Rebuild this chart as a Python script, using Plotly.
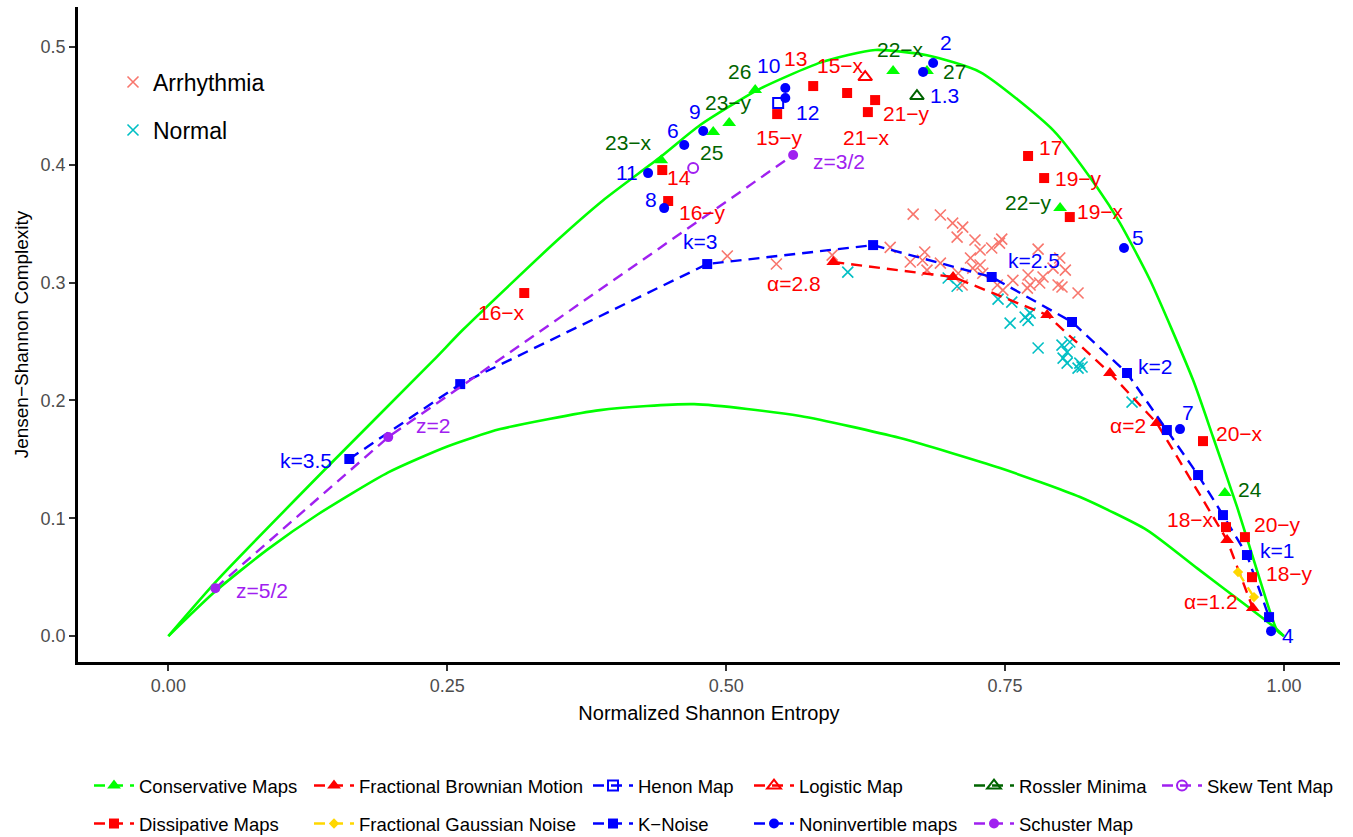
import plotly.graph_objects as go

FONT = "Liberation Sans, Arial, sans-serif"

# ---------------- data ----------------
upper_x = [0.0, 0.0439, 0.1425, 0.2375, 0.264, 0.3486, 0.3898, 0.441, 0.4767, 0.528, 0.585,
           0.6335, 0.680, 0.7276, 0.793, 0.8324, 0.853, 0.880, 0.9185, 0.9364, 0.958, 0.9785, 0.9937, 1.0]
upper_y = [0.0, 0.0475, 0.1435, 0.234, 0.260, 0.336, 0.370, 0.4066, 0.4338, 0.4635, 0.487,
           0.4975, 0.493, 0.4788, 0.4295, 0.381, 0.3506, 0.302, 0.2173, 0.169, 0.1095, 0.0475, 0.005, 0.0]
lower_x = [0.0, 0.0421, 0.0887, 0.1335, 0.1971, 0.25, 0.2975, 0.387, 0.4713, 0.5663, 0.6559, 0.7455,
           0.8172, 0.8772, 0.922, 0.9668, 0.9901, 1.0]
lower_y = [0.0, 0.038, 0.0734, 0.103, 0.139, 0.161, 0.1757, 0.1918, 0.1969, 0.1868, 0.1681, 0.1426,
           0.118, 0.090, 0.0577, 0.0255, 0.0085, 0.0]

arr_x = [0.501, 0.545, 0.595, 0.647, 0.665, 0.678, 0.680, 0.6676, 0.692, 0.703, 0.712, 0.707, 0.723,
         0.676, 0.692, 0.719, 0.7276, 0.738, 0.745, 0.747, 0.721, 0.7276, 0.730, 0.708, 0.7115, 0.757,
         0.7706, 0.7724, 0.7796, 0.784, 0.781, 0.793, 0.7975, 0.801, 0.804, 0.799, 0.8154, 0.748, 0.743, 0.770]
arr_y = [0.3226, 0.3158, 0.3234, 0.330, 0.3175, 0.326, 0.3107, 0.3582, 0.3574, 0.3506, 0.3472, 0.3387, 0.3362,
         0.319, 0.3166, 0.3209, 0.3277, 0.3294, 0.3336, 0.337, 0.3124, 0.315, 0.308, 0.308, 0.298, 0.302,
         0.3065, 0.298, 0.3285, 0.3048, 0.2997, 0.3124, 0.298, 0.2963, 0.3107, 0.3209, 0.2912, 0.2937, 0.298, 0.2954]
nor_x = [0.609, 0.699, 0.707, 0.7437, 0.756, 0.7545, 0.768, 0.7724, 0.7706, 0.7796, 0.801, 0.808,
         0.8056, 0.802, 0.8056, 0.817, 0.819, 0.8154, 0.8638]
nor_y = [0.309, 0.304, 0.297, 0.286, 0.2835, 0.2657, 0.2708, 0.2742, 0.268, 0.2445, 0.247, 0.2496,
         0.241, 0.236, 0.2317, 0.2317, 0.2284, 0.2275, 0.1986]

cons_x = [0.4418, 0.4884, 0.5027, 0.526, 0.6496, 0.680, 0.7993, 0.947]
cons_y = [0.404, 0.4278, 0.4355, 0.4635, 0.4796, 0.4796, 0.3633, 0.1214]
cons_lab = ["23−x", "25", "23−y", "26", "22−x", "27", "22−y", "24"]

diss_x = [0.319, 0.4427, 0.448, 0.5457, 0.578, 0.6084, 0.627, 0.6335, 0.7706, 0.785, 0.808,
          0.9274, 0.948, 0.965, 0.9713]
diss_y = [0.2912, 0.3956, 0.3693, 0.4431, 0.4669, 0.461, 0.4448, 0.455, 0.4075, 0.3888, 0.3557,
          0.1655, 0.0925, 0.084, 0.050]
diss_lab = ["16−x", "14", "16−y", "15−y", "13", "15−x", "21−x", "21−y", "17", "19−y", "19−x",
            "20−x", "18−x", "20−y", "18−y"]

fbm_x = [0.596, 0.7034, 0.7877, 0.844, 0.886, 0.949, 0.972]
fbm_y = [0.3175, 0.3048, 0.2725, 0.2233, 0.1808, 0.0815, 0.0238]
fbm_lab = ["α=2.8", "", "", "", "α=2", "", "α=1.2"]

fgn_x = [0.9588, 0.9731]
fgn_y = [0.0543, 0.0331]

kn_x = [0.1622, 0.2616, 0.483, 0.6317, 0.738, 0.810, 0.8593, 0.895, 0.923, 0.9453, 0.9668, 0.9866]
kn_y = [0.1503, 0.2139, 0.3158, 0.3319, 0.3048, 0.2666, 0.2233, 0.1749, 0.1367, 0.1027, 0.0688, 0.0161]
kn_lab = ["k=3.5", "", "k=3", "", "k=2.5", "", "k=2", "", "", "", "k=1", ""]

henon_x = [0.5466]
henon_y = [0.4525]

ninv_x = [0.430, 0.4444, 0.4624, 0.4794, 0.553, 0.553, 0.6765, 0.6855, 0.8566, 0.9068, 0.9884]
ninv_y = [0.393, 0.3633, 0.4168, 0.4287, 0.4652, 0.4567, 0.4788, 0.4864, 0.3294, 0.1757, 0.0042]
ninv_lab = ["11", "8", "6", "9", "10", "12", "", "2", "5", "7", "4"]

logi_x = [0.6246]
logi_y = [0.4745]

ross_x = [0.671]
ross_y = [0.4584]
ross_lab = ["1.3"]

skew_x = [0.4704]
skew_y = [0.3973]

schu_x = [0.0421, 0.1971, 0.560]
schu_y = [0.0407, 0.1689, 0.4083]
schu_lab = ["z=5/2", "z=2", "z=3/2"]

x_ticks = [0.0, 0.25, 0.5, 0.75, 1.0]
x_ticklabels = ["0.00", "0.25", "0.50", "0.75", "1.00"]
y_ticks = [0.0, 0.1, 0.2, 0.3, 0.4, 0.5]
y_ticklabels = ["0.0", "0.1", "0.2", "0.3", "0.4", "0.5"]

# ---------------- label offsets (pixels: right, up) ----------------
off = {
    "23−x": (-33, 18), "25": (-2, -20), "23−y": (-1, 21), "26": (-16, 19), "22−x": (7, 22),
    "27": (28, 0), "22−y": (-32, 6), "24": (25, 4),
    "16−x": (-23, -19), "14": (17, -7), "16−y": (34, -11), "15−y": (2, -23), "13": (-18, 28),
    "15−x": (-7, 28), "21−x": (-1, -25), "21−y": (31, -13), "17": (22, 9), "19−y": (34, 0),
    "19−x": (31, 6), "20−x": (36, 8), "18−x": (-35, 8), "20−y": (33, 13), "18−y": (38, 4),
    "α=2.8": (-39, -21), "α=2": (-29, -2), "α=1.2": (-42, 7),
    "k=3.5": (-43, -1), "k=3": (-7, 23), "k=2.5": (42, 17), "k=2": (28, 7), "k=1": (30, 5),
    "11": (-21, 1), "8": (-13, 9), "6": (-11, 15), "9": (-8, 20), "10": (-17, 23), "12": (22, -14),
    "2": (13, 21), "5": (14, 11), "7": (8, 17), "4": (17, -4),
    "1.3": (28, 1),
    "z=5/2": (47, -2), "z=2": (45, 12), "z=3/2": (46, -6),
}

GREEN = "#00FF00"
DKGREEN = "#006400"
RED = "#FF0000"
BLUE = "#0000FF"
PURPLE = "#A020F0"
GOLD = "#FFD700"
SALMON = "#F8766D"
TEAL = "#00BFC4"

fig = go.Figure()

# bounds
for bx, by in [(upper_x, upper_y), (lower_x, lower_y)]:
    fig.add_trace(go.Scatter(x=bx, y=by, mode="lines",
                             line=dict(color=GREEN, width=2.6, shape="spline", smoothing=0.6),
                             showlegend=False, hoverinfo="skip"))

# ECG groups
fig.add_trace(go.Scatter(x=arr_x, y=arr_y, mode="markers", name="Arrhythmia", legend="legend12",
                         marker=dict(symbol="x-thin", size=11, line=dict(width=1.6, color=SALMON), color=SALMON)))
fig.add_trace(go.Scatter(x=nor_x, y=nor_y, mode="markers", name="Normal", legend="legend13",
                         marker=dict(symbol="x-thin", size=11, line=dict(width=1.6, color=TEAL), color=TEAL)))


def gapped(v):
    out = []
    for a in v:
        out += [a, None]
    return out[:-1]


DASH = "11px,7px"


def add_group(name, xs, ys, color, symbol, size, legend, connect, mline=None):
    xx = xs if connect else gapped(xs)
    yy = ys if connect else gapped(ys)
    mk = dict(symbol=symbol, size=size, color=color)
    mk["line"] = dict(color=color, width=mline) if mline else dict(width=0)
    fig.add_trace(go.Scatter(x=xx, y=yy, mode="lines+markers", name=name, legend=legend,
                             connectgaps=False,
                             line=dict(color=color, width=2.4, dash=DASH), marker=mk))


add_group("Fractional Brownian Motion", fbm_x, fbm_y, RED, "triangle-up", 12, "legend2", True)
add_group("K−Noise", kn_x, kn_y, BLUE, "square", 10, "legend9", True)
add_group("Schuster Map", schu_x, schu_y, PURPLE, "circle", 10, "legend11", True)
add_group("Fractional Gaussian Noise", fgn_x, fgn_y, GOLD, "diamond", 8, "legend8", True)
add_group("Conservative Maps", cons_x, cons_y, GREEN, "triangle-up", 12, "legend", False)
add_group("Dissipative Maps", diss_x, diss_y, RED, "square", 10, "legend7", False)
add_group("Henon Map", henon_x, henon_y, BLUE, "square-open", 10, "legend3", False, mline=2)
add_group("Logistic Map", logi_x, logi_y, RED, "triangle-up-open", 12, "legend4", False, mline=2)
add_group("Rossler Minima", ross_x, ross_y, DKGREEN, "triangle-up-open", 12, "legend5", False, mline=2)
add_group("Skew Tent Map", skew_x, skew_y, PURPLE, "circle-open", 10, "legend6", False, mline=2)
add_group("Noninvertible maps", ninv_x, ninv_y, BLUE, "circle", 10, "legend10", False)

# point labels
LABFONT = 21
anns = []
for xs, ys, labs, col in [(cons_x, cons_y, cons_lab, DKGREEN), (diss_x, diss_y, diss_lab, RED),
                          (fbm_x, fbm_y, fbm_lab, RED), (kn_x, kn_y, kn_lab, BLUE),
                          (ninv_x, ninv_y, ninv_lab, BLUE), (ross_x, ross_y, ross_lab, BLUE),
                          (schu_x, schu_y, schu_lab, PURPLE)]:
    for xv, yv, t in zip(xs, ys, labs):
        if not t:
            continue
        dx, dy = off[t]
        anns.append(dict(x=xv, y=yv, xref="x", yref="y", text=t, showarrow=False,
                         xshift=dx, yshift=dy, xanchor="center", yanchor="middle",
                         font=dict(family=FONT, size=LABFONT, color=col)))

# ---------------- layout ----------------
W, H = 1353, 837
ML, MR, MT, MB = 78, 13, 7, 175
PW = W - ML - MR
PH = H - MT - MB


def px2paper_x(px):
    return (px - ML) / PW


def px2paper_y(py):
    return (H - MB - py) / PH


LEGFONT = dict(family=FONT, size=18.5, color="black")
col_centers = [113, 333, 612, 773, 993, 1181]
row_centers = [786, 824]
legend_slots = {
    "legend": (0, 0), "legend2": (1, 0), "legend3": (2, 0), "legend4": (3, 0), "legend5": (4, 0), "legend6": (5, 0),
    "legend7": (0, 1), "legend8": (1, 1), "legend9": (2, 1), "legend10": (3, 1), "legend11": (4, 1),
}
layout_legends = {}
for key, (c, r) in legend_slots.items():
    layout_legends[key] = dict(x=px2paper_x(col_centers[c] - 24), y=px2paper_y(row_centers[r]),
                               xanchor="left", yanchor="middle", orientation="v",
                               bgcolor="rgba(0,0,0,0)", font=LEGFONT, itemwidth=40)
for key, py in [("legend12", 82), ("legend13", 130)]:
    layout_legends[key] = dict(x=px2paper_x(134 - 21), y=px2paper_y(py), xanchor="left", yanchor="middle",
                               bgcolor="rgba(0,0,0,0)", font=dict(family=FONT, size=23, color="black"))

fig.update_layout(
    width=W, height=H,
    margin=dict(l=ML, r=MR, t=MT, b=MB, autoexpand=False),
    paper_bgcolor="white", plot_bgcolor="white",
    font=dict(family=FONT),
    annotations=anns,
    **layout_legends,
)
fig.update_xaxes(range=[-0.081, 1.0502], tickvals=x_ticks, ticktext=x_ticklabels, automargin=False,
                 showgrid=False, zeroline=False, showline=True, linecolor="black", linewidth=2.5,
                 ticks="outside", ticklen=6, tickwidth=1.5, tickcolor="#333333",
                 tickfont=dict(family=FONT, size=18, color="#4D4D4D"),
                 title=dict(text="Normalized Shannon Entropy", font=dict(family=FONT, size=20, color="black"), standoff=11))
fig.update_yaxes(range=[-0.022, 0.534], tickvals=y_ticks, ticktext=y_ticklabels, automargin=False,
                 showgrid=False, zeroline=False, showline=True, linecolor="black", linewidth=2.5,
                 ticks="outside", ticklen=6, tickwidth=1.5, tickcolor="#333333",
                 tickfont=dict(family=FONT, size=18, color="#4D4D4D"),
                 title=dict(text="Jensen−Shannon Complexity", font=dict(family=FONT, size=19, color="black"), standoff=7))

fig.write_html("out.html", config={"displayModeBar": False},
               post_script="document.body.style.margin='0px';")
